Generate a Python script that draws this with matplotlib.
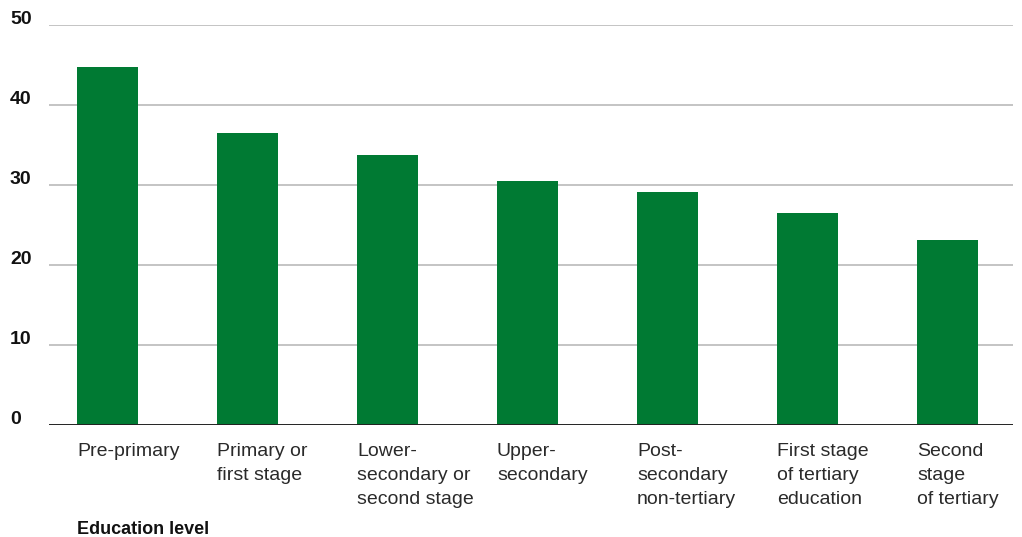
import matplotlib.pyplot as plt
import numpy as np

# data
levels = ['Pre-primary', 'Primary or\nfirst stage', 'Lower-\nsecondary or\nsecond stage',
          'Upper-\nsecondary', 'Post-\nsecondary\nnon-tertiary',
          'First stage\nof tertiary\neducation', 'Second\nstage\nof tertiary']
values = [44.8, 36.5, 33.8, 30.5, 29.1, 26.5, 23.1]
yticks = [0, 10, 20, 30, 40, 50]

plt.rcParams['font.family'] = ['Liberation Sans', 'DejaVu Sans']

fig = plt.figure(figsize=(10.22, 5.37), dpi=100)
ax = fig.add_axes([49/1022, 112/537, 964/1022, 400/537])

x = np.arange(len(values))
bw = 0.436
ax.bar(x, values, width=bw, color='#007A33', zorder=3)

ax.set_xlim(-0.418, 6.468)
ax.set_ylim(0, 50)
for t in yticks[1:]:
    ax.axhline(t, color='#b4b4b4', linewidth=1.1, zorder=1)
ax.axhline(0, color='#222222', linewidth=1.4, zorder=4)

for s in ax.spines.values():
    s.set_visible(False)
ax.set_xticks([])
ax.set_yticks([])

# y tick labels, bold, sitting just above each gridline
for t in yticks:
    ax.annotate(str(t), xy=(0, t), xycoords=('figure fraction', 'data'),
                xytext=(10, 5), textcoords='offset pixels',
                ha='left', va='center', fontsize=14, fontweight='bold', color='#111111')

# category labels, left aligned with the bar's left edge
for xi, lab in zip(x, levels):
    ax.annotate(lab, xy=(xi - bw / 2, 0), xycoords='data',
                xytext=(0, -18), textcoords='offset pixels',
                ha='left', va='top', fontsize=14, color='#2a2a2a', linespacing=1.55)

fig.text(77/1022, 1 - 530/537, 'Education level', ha='left', va='center',
         fontsize=13, fontweight='bold', color='#111111')

fig.savefig('out.png', dpi=100)
